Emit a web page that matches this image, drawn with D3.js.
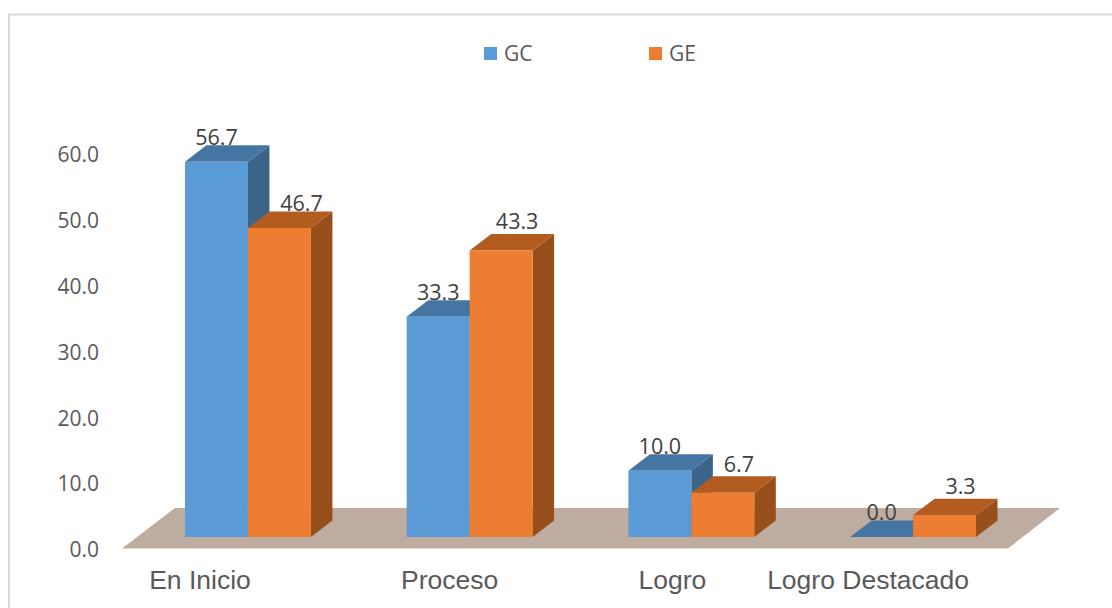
<!DOCTYPE html>
<html>
<head>
<meta charset="utf-8">
<script src="https://cdn.jsdelivr.net/npm/d3@7"></script>
<style>
    html, body { margin: 0; padding: 0; background: #fff; overflow: hidden; }
    text { font-family: "Open Sans", sans-serif; }
</style>
</head>
<body>
<script>
'use strict';

const categories = ['En Inicio', 'Proceso', 'Logro', 'Logro Destacado'];
const seriesNames = ['GC', 'GE'];
const gcValues = [56.7, 33.3, 10.0, 0.0];
const geValues = [46.7, 43.3, 6.7, 3.3];
const tickValues = [0, 10, 20, 30, 40, 50, 60];

const width = 1112;
const height = 608;
const depthX = 21.5;
const depthY = 16.5;

// fudge for label placement, the original has them hand moved
const categoryLabelDx = [-48, -20, -19, -45];
const geLabelDx = [22, 16, 16, 16];
const geLabelDy = [17, 21, 21, 21];

const colors = {
    GC: { front: '#5b9bd5', top: '#4575a3', side: '#3a6488' },
    GE: { front: '#ed7d31', top: '#b35c20', side: '#97501b' }
};

const svg = d3.select('body').append('svg').attr('width', width).attr('height', height);

// frame runs off the right and bottom of the picture
svg.append('rect')
    .attr('x', 9).attr('y', 14.5)
    .attr('width', width).attr('height', height)
    .attr('fill', '#fff').attr('stroke', '#d9d9d9').attr('stroke-width', 2);

const xCat = d3.scaleBand().domain(categories).range([137.1, 1023.9]).paddingInner(0.432).paddingOuter(0.216);
const xSeries = d3.scaleBand().domain(seriesNames).range([0, xCat.bandwidth()]);
const yBar = d3.scaleLinear().domain([0, 60]).range([537, 140]);
const yAxis = d3.scaleLinear().domain([0, 60]).range([550, 155]);

// floor
svg.append('path')
    .attr('d', 'M122,548.5L175,508L1060,508L1008,548.5Z')
    .attr('fill', '#bfaca0');

const axis = d3.axisLeft(yAxis)
    .tickValues(tickValues)
    .tickFormat(d3.format('.1f'))
    .tickSize(0)
    .tickPadding(0);

const axisG = svg.append('g')
    .attr('transform', 'translate(99,0)')
    .call(axis);
axisG.select('.domain').remove();
axisG.selectAll('text')
    .attr('fill', '#595959')
    .style('font-size', '21px');

function drawBar(name, cat, value) {
    const x0 = xCat(cat) + xSeries(name);
    const x1 = x0 + xSeries.bandwidth();
    const top = yBar(value);
    const base = yBar(0);
    const c = colors[name];
    const g = svg.append('g');

    g.append('path')
        .attr('d', `M${x1},${top}L${x1 + depthX},${top - depthY}L${x1 + depthX},${base - depthY}L${x1},${base}Z`)
        .attr('fill', c.side);
    g.append('path')
        .attr('d', `M${x0},${top}L${x0 + depthX},${top - depthY}L${x1 + depthX},${top - depthY}L${x1},${top}Z`)
        .attr('fill', c.top);
    g.append('rect')
        .attr('x', x0).attr('y', top)
        .attr('width', x1 - x0).attr('height', base - top)
        .attr('fill', c.front);
}

categories.forEach((cat, i) => {
    drawBar('GC', cat, gcValues[i]);
    drawBar('GE', cat, geValues[i]);
});

const labelFormat = d3.format('.1f');

categories.forEach((cat, i) => {
    svg.append('text')
        .attr('x', xCat(cat) + xSeries('GC') + xSeries.bandwidth() / 2)
        .attr('y', yBar(gcValues[i]) - 17)
        .attr('text-anchor', 'middle')
        .attr('fill', '#404040')
        .style('font-size', '21.5px')
        .text(labelFormat(gcValues[i]));
    svg.append('text')
        .attr('x', xCat(cat) + xSeries('GE') + xSeries.bandwidth() / 2 + geLabelDx[i])
        .attr('y', yBar(geValues[i]) - geLabelDy[i])
        .attr('text-anchor', 'middle')
        .attr('fill', '#404040')
        .style('font-size', '21.5px')
        .text(labelFormat(geValues[i]));
    svg.append('text')
        .attr('x', xCat(cat) + xCat.bandwidth() / 2 + categoryLabelDx[i])
        .attr('y', 589)
        .attr('text-anchor', 'middle')
        .attr('fill', '#595959')
        .style('font-family', '"Liberation Sans", sans-serif')
        .style('font-size', '26.5px')
        .text(cat);
});

// legend
const legendX = d3.scaleOrdinal().domain(seriesNames).range([484, 649]);
seriesNames.forEach(name => {
    svg.append('rect')
        .attr('x', legendX(name)).attr('y', 47)
        .attr('width', 13).attr('height', 13)
        .attr('fill', colors[name].front);
    svg.append('text')
        .attr('x', legendX(name) + 20)
        .attr('y', 61)
        .attr('fill', '#595959')
        .style('font-size', '21px')
        .text(name);
});
</script>
</body>
</html>
